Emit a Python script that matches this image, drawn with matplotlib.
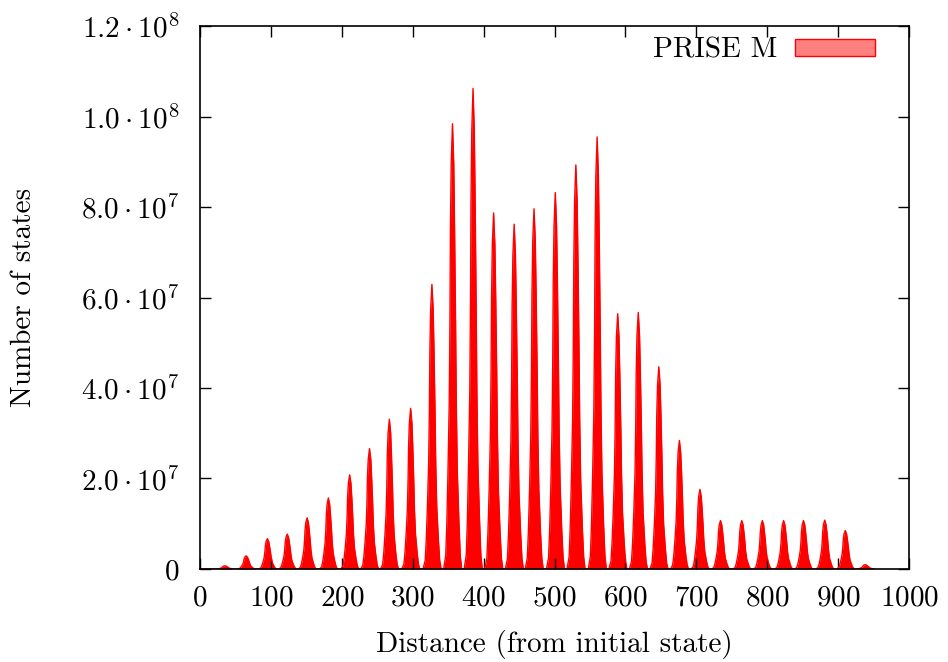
import numpy as np
import matplotlib
matplotlib.use("Agg")
import matplotlib.pyplot as plt
from matplotlib.ticker import MultipleLocator, FuncFormatter
from matplotlib.patches import Patch

plt.rcParams['font.family'] = 'serif'
plt.rcParams['font.serif'] = ['cmr10']
plt.rcParams['mathtext.fontset'] = 'cm'
plt.rcParams['axes.unicode_minus'] = False
plt.rcParams['axes.formatter.use_mathtext'] = True

# peak positions (distance) and peak heights (number of states, millions)
peak_dist = [35, 65, 95, 123, 151, 181, 211, 239, 267, 297, 327, 356, 385, 414,
             443, 471, 501, 530, 560, 589, 618, 647, 676, 705, 734, 764, 793,
             823, 851, 881, 910, 938]
peak_mil = [0.7, 2.9, 6.7, 7.7, 11.3, 15.7, 20.8, 26.6, 33.1, 35.5, 62.9, 98.4,
            106.2, 78.7, 76.2, 79.6, 83.2, 89.3, 95.5, 56.4, 56.7, 44.7, 28.4,
            17.6, 10.7, 10.7, 10.7, 10.7, 10.7, 10.8, 8.5, 0.95]

# shape of one peak (offset in distance, fraction of top)
shape_off = [-12.5, -9.5, -8, -6.3, -4.6, -3.6, -2.9, -1.8, 0, 1.8, 3, 4.4, 5.4, 6.8, 9.2, 11, 13]
shape_frac = [0, 0.03, 0.1, 0.22, 0.37, 0.55, 0.76, 0.91, 1.0, 0.91, 0.76, 0.55,
              0.37, 0.22, 0.1, 0.03, 0]

xs = [0]
ys = [0]
for d, h in zip(peak_dist, peak_mil):
    for o, f in zip(shape_off, shape_frac):
        xs.append(d + o)
        ys.append(h * 1e6 * f)
xs.append(945)
ys.append(0)
xs = np.array(xs)
ys = np.array(ys)

fig = plt.figure(figsize=(9.48, 6.62), dpi=100)
ax = fig.add_axes([0.211, 0.1405, 0.748, 0.8202])

ax.fill_between(xs, 0, ys, color='#ff0000', linewidth=0)
ax.plot(xs, ys, color='#ff0000', linewidth=1.0)

ax.set_xlim(0, 1000)
ax.set_ylim(0, 1.2e8)
ax.xaxis.set_major_locator(MultipleLocator(100))
ax.yaxis.set_major_locator(MultipleLocator(2e7))


def yfmt(v, pos):
    if v <= 0:
        return '$0$'
    e = int(np.floor(np.log10(v) + 1e-9))
    m = v / 10 ** e
    return r'$%.1f \cdot 10^{%d}$' % (m, e)


ax.yaxis.set_major_formatter(FuncFormatter(yfmt))
ax.tick_params(direction='in', length=8, width=1, top=True, right=True,
               labelsize=21)
ax.tick_params(axis='x', pad=12)
ax.tick_params(axis='y', pad=15)
for s in ax.spines.values():
    s.set_linewidth(1.2)

ax.set_xlabel('Distance (from initial state)', fontsize=21, labelpad=13)
ax.set_ylabel('Number of states', fontsize=21, labelpad=32)

handle = Patch(facecolor='#ff8080', edgecolor='#ff0000', linewidth=1)
ax.legend([handle], ['PRISE M'], loc='upper right', frameon=False,
          markerfirst=False, fontsize=21, handlelength=2.75, handleheight=0.55,
          borderaxespad=0, borderpad=0, handletextpad=0.6,
          bbox_to_anchor=(0.952, 0.979))

plt.savefig('out.png', dpi=100)
